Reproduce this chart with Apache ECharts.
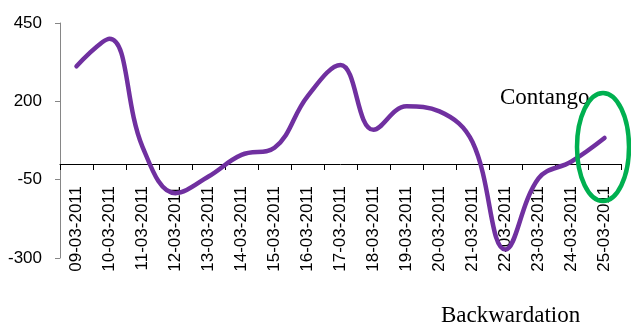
<!DOCTYPE html>
<html>
<head>
<meta charset="utf-8">
<script src="https://cdn.jsdelivr.net/npm/echarts@6/dist/echarts.min.js"></script>
<style>
  html, body { margin: 0; padding: 0; background: #ffffff; }
  #chart { width: 631px; height: 325px; }
</style>
</head>
<body>
<div id="chart"></div>
<script>
// Trading days in March 2011
const dates = [
  '09-03-2011', '10-03-2011', '11-03-2011', '12-03-2011', '13-03-2011',
  '14-03-2011', '15-03-2011', '16-03-2011', '17-03-2011', '18-03-2011',
  '19-03-2011', '20-03-2011', '21-03-2011', '22-03-2011', '23-03-2011',
  '24-03-2011', '25-03-2011'
];
// Futures basis (futures minus spot) per day
const basis = [312, 400, 55, -93, -40, 29, 52, 216, 316, 109, 184, 168, 70, -273, -46, 8, 83];
// Value axis range and step
const yMin = -300;
const yMax = 450;
const yStep = 250;

const chart = echarts.init(document.getElementById('chart'), null, { renderer: 'canvas' });

const labelFont = '"Liberation Sans", Arial, sans-serif';
const noteFont = '"Liberation Serif", "Times New Roman", serif';

// The date labels hang just under the zero line rather than the bottom of the plot
const gridTop = 23;
const gridBottom = 67;
const plotHeight = 325 - gridTop - gridBottom;
const zeroOffset = plotHeight * (0 - yMin) / (yMax - yMin);

chart.setOption({
  animation: false,
  backgroundColor: '#ffffff',
  grid: { left: 60, right: 10, top: gridTop, bottom: gridBottom, containLabel: false, outerBoundsMode: 'none' },
  xAxis: {
    type: 'category',
    data: dates,
    boundaryGap: true,
    axisLine: { onZero: true, lineStyle: { color: '#000000', width: 1 } },
    axisTick: { show: true, inside: false, length: 6, alignWithLabel: false, lineStyle: { color: '#000000' } },
    axisLabel: {
      rotate: 90,
      margin: 22 - zeroOffset,
      interval: 0,
      color: '#000000',
      fontFamily: labelFont,
      fontSize: 17
    },
    splitLine: { show: false }
  },
  yAxis: {
    type: 'value',
    min: yMin,
    max: yMax,
    interval: yStep,
    axisLine: { show: true, lineStyle: { color: '#868686', width: 1 } },
    axisTick: { show: true, length: 5, lineStyle: { color: '#868686' } },
    axisLabel: {
      margin: 18,
      color: '#000000',
      fontFamily: labelFont,
      fontSize: 17
    },
    splitLine: { show: false }
  },
  series: [{
    type: 'line',
    data: basis,
    smooth: 0.4,
    symbol: 'none',
    lineStyle: { color: '#7030A0', width: 4.5, cap: 'round' },
    z: 3
  }],
  graphic: [
    {
      type: 'ellipse',
      shape: { cx: 603, cy: 147, rx: 26, ry: 54 },
      style: { fill: 'none', stroke: '#00B050', lineWidth: 4.5 },
      z: 10
    },
    {
      type: 'text',
      left: 500,
      top: 86,
      style: { text: 'Contango', font: '23px ' + noteFont, fill: '#000000' },
      z: 9
    },
    {
      type: 'text',
      left: 441,
      top: 304,
      style: { text: 'Backwardation', font: '23px ' + noteFont, fill: '#000000' },
      z: 9
    }
  ]
});
</script>
</body>
</html>
